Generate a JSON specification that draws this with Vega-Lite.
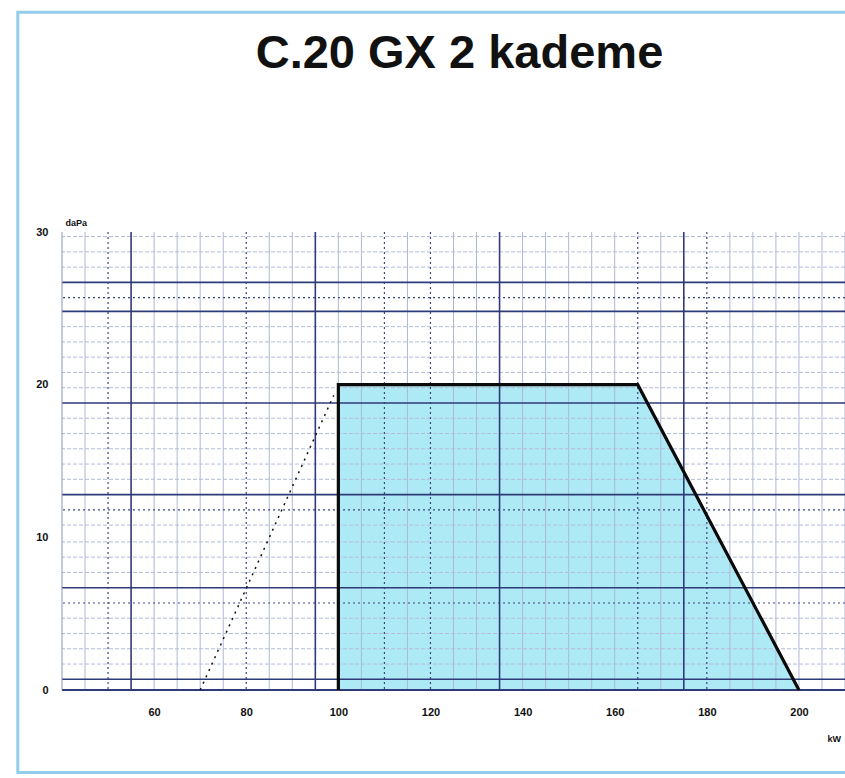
{
  "$schema": "https://vega.github.io/schema/vega-lite/v6.json",
  "autosize": "none",
  "padding": {"left": 62, "top": 232, "right": 0, "bottom": 88},
  "width": 783,
  "height": 458,
  "background": "white",
  "title": {
    "text": "C.20 GX 2 kademe",
    "font": "Liberation Sans",
    "fontSize": 47,
    "fontWeight": "bold",
    "color": "#111111",
    "anchor": "middle",
    "frame": "group",
    "offset": -67,
    "dx": 6
  },
  "config": {
    "view": {"stroke": null},
    "axis": {
      "labelFont": "Liberation Sans",
      "labelFontWeight": "bold",
      "labelFontSize": 11,
      "labelColor": "#111111",
      "titleFont": "Liberation Sans",
      "titleFontWeight": "bold",
      "titleFontSize": 9,
      "titleColor": "#111111",
      "ticks": false,
      "grid": false,
      "domain": false
    }
  },
  "datasets": {
    "frame": [
      {"x1": 30.4, "x2": 240, "y1": -5.4, "y2": 44.4}
    ],
    "envelope": [
      {"kW": 100, "daPa": 0, "ord": 1},
      {"kW": 100, "daPa": 20, "ord": 2},
      {"kW": 165, "daPa": 20, "ord": 3},
      {"kW": 200, "daPa": 0, "ord": 4}
    ],
    "fillpts": [
      {"kW": 100, "daPa": 20},
      {"kW": 165, "daPa": 20},
      {"kW": 200, "daPa": 0}
    ],
    "dashed": [
      {"kW": 70, "daPa": 0},
      {"kW": 99, "daPa": 19.3}
    ],
    "vminor": [
      {"kW": 45}, {"kW": 60}, {"kW": 65}, {"kW": 70}, {"kW": 75}, {"kW": 85}, {"kW": 90},
      {"kW": 100}, {"kW": 105}, {"kW": 115}, {"kW": 125}, {"kW": 130}, {"kW": 140}, {"kW": 145},
      {"kW": 150}, {"kW": 155}, {"kW": 160}, {"kW": 170}, {"kW": 185}, {"kW": 190}, {"kW": 195},
      {"kW": 200}, {"kW": 205}, {"kW": 210}
    ],
    "vdotted": [
      {"kW": 50}, {"kW": 80}, {"kW": 110}, {"kW": 120}, {"kW": 165}, {"kW": 180}
    ],
    "vmajor": [
      {"kW": 55}, {"kW": 95}, {"kW": 135}, {"kW": 175}
    ],
    "hminor": [
      {"daPa": 1.7}, {"daPa": 2.7}, {"daPa": 3.7}, {"daPa": 4.7}, {"daPa": 7.7}, {"daPa": 8.7},
      {"daPa": 9.7}, {"daPa": 10.8}, {"daPa": 13.8}, {"daPa": 14.8}, {"daPa": 15.8}, {"daPa": 16.8},
      {"daPa": 17.8}, {"daPa": 19.8}, {"daPa": 20.8}, {"daPa": 21.8}, {"daPa": 22.8}, {"daPa": 23.8},
      {"daPa": 27.7}, {"daPa": 28.7}, {"daPa": 29.7}
    ],
    "hdotted": [
      {"daPa": 5.7}, {"daPa": 11.8}, {"daPa": 25.7}
    ],
    "hmajor": [
      {"daPa": 0.7}, {"daPa": 6.7}, {"daPa": 12.8}, {"daPa": 18.8}, {"daPa": 24.8}, {"daPa": 26.7}
    ]
  },
  "layer": [
    {
      "data": {"name": "fillpts"},
      "mark": {"type": "area", "color": "#aeeaf5", "opacity": 1},
      "encoding": {
        "x": {
          "field": "kW", "type": "quantitative",
          "scale": {"domain": [40, 210], "nice": false, "zero": false},
          "axis": {
            "values": [60, 80, 100, 120, 140, 160, 180, 200],
            "labelPadding": 16,
            "title": "kW",
            "titleAnchor": "start",
            "titleAlign": "left",
            "titleX": 765,
            "titleY": 44
          }
        },
        "y": {
          "field": "daPa", "type": "quantitative",
          "scale": {"domain": [0, 30], "nice": false, "zero": false},
          "axis": {
            "values": [0, 10, 20, 30],
            "labelPadding": 14,
            "title": "daPa",
            "titleAngle": 0,
            "titleAlign": "left",
            "titleBaseline": "bottom",
            "titleX": 3,
            "titleY": -5
          }
        }
      }
    },
    {
      "data": {"name": "frame"},
      "mark": {"type": "rect", "clip": false, "fillOpacity": 0, "stroke": "#93cdec", "strokeWidth": 3},
      "encoding": {
        "x": {"field": "x1", "type": "quantitative"},
        "x2": {"field": "x2"},
        "y": {"field": "y1", "type": "quantitative"},
        "y2": {"field": "y2"}
      }
    },
    {
      "data": {"name": "vminor"},
      "mark": {"type": "rule", "color": "#aeb8d6", "strokeWidth": 1},
      "encoding": {"x": {"field": "kW", "type": "quantitative"}}
    },
    {
      "data": {"name": "hminor"},
      "mark": {"type": "rule", "color": "#b4bcd6", "strokeWidth": 1, "strokeDash": [4, 2]},
      "encoding": {"y": {"field": "daPa", "type": "quantitative"}}
    },
    {
      "data": {"name": "vdotted"},
      "mark": {"type": "rule", "color": "#3c4680", "strokeWidth": 1.2, "strokeDash": [2, 3]},
      "encoding": {"x": {"field": "kW", "type": "quantitative"}}
    },
    {
      "data": {"name": "hdotted"},
      "mark": {"type": "rule", "color": "#3c4680", "strokeWidth": 1.2, "strokeDash": [2, 3]},
      "encoding": {"y": {"field": "daPa", "type": "quantitative"}}
    },
    {
      "data": {"name": "vmajor"},
      "mark": {"type": "rule", "color": "#2f3a78", "strokeWidth": 1.6},
      "encoding": {"x": {"field": "kW", "type": "quantitative"}}
    },
    {
      "data": {"name": "hmajor"},
      "mark": {"type": "rule", "color": "#2f3a78", "strokeWidth": 1.6},
      "encoding": {"y": {"field": "daPa", "type": "quantitative"}}
    },
    {
      "data": {"values": [{"daPa": 0}]},
      "mark": {"type": "rule", "color": "#2f3a78", "strokeWidth": 2},
      "encoding": {"y": {"field": "daPa", "type": "quantitative"}}
    },
    {
      "data": {"values": [{"kW": 40}]},
      "mark": {"type": "rule", "color": "#8a94bc", "strokeWidth": 1},
      "encoding": {"x": {"field": "kW", "type": "quantitative"}}
    },
    {
      "data": {"name": "dashed"},
      "mark": {"type": "line", "color": "#111111", "strokeWidth": 1.5, "strokeDash": [2, 5]},
      "encoding": {
        "x": {"field": "kW", "type": "quantitative"},
        "y": {"field": "daPa", "type": "quantitative"}
      }
    },
    {
      "data": {"name": "envelope"},
      "mark": {"type": "line", "color": "#0a0a0a", "strokeWidth": 3.2, "strokeJoin": "miter"},
      "encoding": {
        "x": {"field": "kW", "type": "quantitative"},
        "y": {"field": "daPa", "type": "quantitative"},
        "order": {"field": "ord", "type": "quantitative"}
      }
    }
  ]
}
